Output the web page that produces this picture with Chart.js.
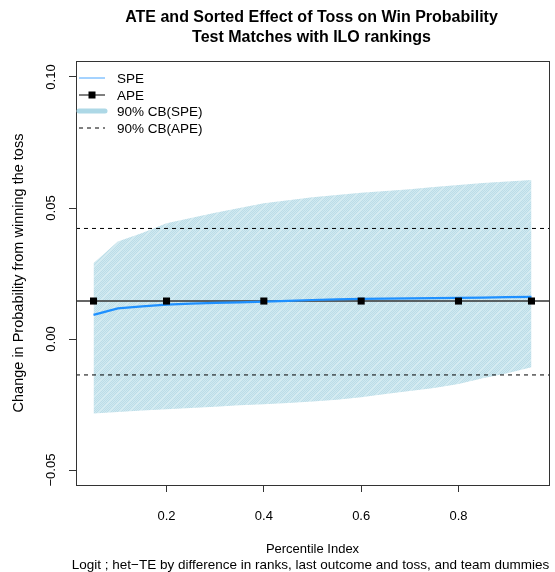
<!DOCTYPE html>
<html lang="en">
<head>
  <meta charset="UTF-8" />
  <title>ATE and Sorted Effect of Toss on Win Probability</title>
  <script src="https://cdn.jsdelivr.net/npm/chart.js"></script>
  <style>
    body { margin: 0; padding: 0; background: white; }
    .chart-container { width: 555px; height: 572px; }
  </style>
</head>
<body>
  <div class="chart-container"><canvas id="speChart" width="555" height="572"></canvas></div>

  <script>
    // percentile index grid and sorted effects
    const pctl = [0.05, 0.10, 0.15, 0.20, 0.25, 0.30, 0.35, 0.40, 0.45, 0.50,
                  0.55, 0.60, 0.65, 0.70, 0.75, 0.80, 0.85, 0.90, 0.95];
    const spe = [0.0092, 0.0117, 0.0125, 0.0131, 0.0135, 0.0138, 0.0140, 0.0143, 0.0146, 0.0149,
                 0.0151, 0.0153, 0.0154, 0.0155, 0.0156, 0.0157, 0.0158, 0.0160, 0.0161];
    const cbUpper = [0.0289, 0.0372, 0.0405, 0.0442, 0.0462, 0.0482, 0.0500, 0.0518, 0.0530, 0.0541,
                     0.0550, 0.0558, 0.0565, 0.0572, 0.0580, 0.0588, 0.0595, 0.0601, 0.0607];
    const cbLower = [-0.0284, -0.0278, -0.0273, -0.0268, -0.0263, -0.0258, -0.0253, -0.0249, -0.0244, -0.0238,
                     -0.0232, -0.0222, -0.0210, -0.0198, -0.0187, -0.0172, -0.0150, -0.0131, -0.0108];

    // average effect and its band
    const apePctl = [0.05, 0.2, 0.4, 0.6, 0.8, 0.95];
    const apeValue = 0.0145;
    const apeUpper = 0.0422;
    const apeLower = -0.0137;

    const xTicks = [0.2, 0.4, 0.6, 0.8];
    const yTicks = [-0.05, 0.00, 0.05, 0.10];
    const xLimits = [0.014, 0.986];
    const yLimits = [-0.0557, 0.1061];

    const legendItems = ['SPE', 'APE', '90% CB(SPE)', '90% CB(APE)'];

    const FONT = '"Liberation Sans", Arial, Helvetica, sans-serif';

    // shaded light blue fill like the R output (fine checker + faint diagonal)
    function bandPattern() {
      const c = document.createElement('canvas');
      c.width = 10; c.height = 10;
      const g = c.getContext('2d');
      for (let i = 0; i < 10; i++) {
        for (let j = 0; j < 10; j++) {
          g.fillStyle = ((i + j) % 2 === 0) ? '#bbdde8' : '#d1e9f0';
          if ((i + j) % 10 === 0) g.fillStyle = '#d6ecf2';
          g.fillRect(i, j, 1, 1);
        }
      }
      return g.createPattern(c, 'repeat');
    }

    const pts = (xs, ys) => xs.map((x, i) => ({ x: x, y: ys[i] }));
    const flat = (v) => xLimits.map(x => ({ x: x, y: v }));

    const decorations = {
      id: 'decorations',
      afterDraw(chart) {
        const ctx = chart.ctx;
        const a = chart.chartArea;
        const ys = chart.scales.y;
        const midX = (a.left + a.right) / 2;
        ctx.save();
        // box
        ctx.strokeStyle = '#333';
        ctx.lineWidth = 1;
        ctx.strokeRect(a.left + 0.5, a.top + 0.5, a.right - a.left, a.bottom - a.top);

        // titles
        ctx.fillStyle = '#000';
        ctx.textAlign = 'center';
        ctx.textBaseline = 'middle';
        ctx.font = 'bold 16px ' + FONT;
        ctx.fillText('ATE and Sorted Effect of Toss on Win Probability', midX - 1, 18);
        ctx.fillText('Test Matches with ILO rankings', midX - 1, 38);
        ctx.font = '13px ' + FONT;
        ctx.fillText('Percentile Index', midX, 549);
        ctx.font = '13.5px ' + FONT;
        ctx.fillText('Logit ; het\u2212TE by difference in ranks, last outcome and toss, and team dummies', midX - 2, 565);

        // y tick labels and title, rotated
        ctx.font = '13px ' + FONT;
        yTicks.forEach(v => {
          const py = ys.getPixelForValue(v);
          ctx.save();
          ctx.translate(51, py);
          ctx.rotate(-Math.PI / 2);
          ctx.fillText((v < 0 ? '\u2212' : '') + Math.abs(v).toFixed(2), 0, 0);
          ctx.restore();
        });
        ctx.font = '14.5px ' + FONT;
        ctx.save();
        ctx.translate(19, (a.top + a.bottom) / 2);
        ctx.rotate(-Math.PI / 2);
        ctx.fillText('Change in Probability from winning the toss', 0, 0);
        ctx.restore();

        // legend
        const lx0 = a.left + 3, lx1 = a.left + 29, tx = a.left + 41;
        const rowY = [78, 95, 111, 128];
        ctx.textAlign = 'left';
        ctx.font = '13.5px ' + FONT;
        legendItems.forEach((label, i) => {
          const y = rowY[i];
          ctx.beginPath();
          ctx.setLineDash([]);
          if (i === 0) { ctx.strokeStyle = '#4aa6ff'; ctx.lineWidth = 1; }
          if (i === 1) { ctx.strokeStyle = '#000'; ctx.lineWidth = 1; }
          if (i === 2) { ctx.strokeStyle = '#ADD8E6'; ctx.lineWidth = 5; ctx.lineCap = 'round'; }
          if (i === 3) { ctx.strokeStyle = '#000'; ctx.lineWidth = 1; ctx.setLineDash([4, 4]); ctx.lineCap = 'butt'; }
          ctx.moveTo(lx0, y);
          ctx.lineTo(lx1, y);
          ctx.stroke();
          ctx.lineCap = 'butt';
          ctx.setLineDash([]);
          if (i === 1) {
            ctx.fillStyle = '#000';
            ctx.fillRect((lx0 + lx1) / 2 - 3.5, y - 3.5, 7, 7);
          }
          ctx.fillStyle = '#000';
          ctx.fillText(label, tx, y + 1);
        });
        ctx.restore();
      }
    };

    const ctx = document.getElementById('speChart').getContext('2d');
    new Chart(ctx, {
      type: 'scatter',
      data: {
        datasets: [
          {
            label: '90% CB(SPE) upper',
            data: pts(pctl, cbUpper),
            showLine: true,
            borderWidth: 0,
            borderColor: 'rgba(0,0,0,0)',
            pointRadius: 0,
            backgroundColor: bandPattern(),
            fill: '+1',
            order: 5
          },
          {
            label: '90% CB(SPE) lower',
            data: pts(pctl, cbLower),
            showLine: true,
            borderWidth: 0,
            borderColor: 'rgba(0,0,0,0)',
            pointRadius: 0,
            fill: false,
            order: 4
          },
          {
            label: 'CB(APE) upper',
            data: flat(apeUpper),
            showLine: true,
            borderColor: '#000',
            borderWidth: 1,
            borderDash: [4, 4],
            pointRadius: 0,
            order: 3
          },
          {
            label: 'CB(APE) lower',
            data: flat(apeLower),
            showLine: true,
            borderColor: '#000',
            borderWidth: 1,
            borderDash: [4, 4],
            pointRadius: 0,
            order: 3
          },
          {
            label: 'APE line',
            data: flat(apeValue),
            showLine: true,
            borderColor: '#333',
            borderWidth: 1.5,
            pointRadius: 0,
            order: 2
          },
          {
            label: 'SPE',
            data: pts(pctl, spe),
            showLine: true,
            borderColor: '#1E90FF',
            borderWidth: 2.2,
            pointRadius: 0,
            tension: 0,
            order: 1
          },
          {
            label: 'APE',
            data: apePctl.map(x => ({ x: x, y: apeValue })),
            showLine: false,
            pointStyle: 'rect',
            pointRadius: 5,
            pointBackgroundColor: '#000',
            pointBorderColor: '#000',
            pointBorderWidth: 0,
            order: 0
          }
        ]
      },
      options: {
        responsive: false,
        animation: false,
        layout: { padding: { top: 61, right: 6, left: 0, bottom: 0 } },
        plugins: {
          legend: { display: false },
          tooltip: { enabled: false },
          title: { display: false }
        },
        scales: {
          x: {
            type: 'linear',
            min: xLimits[0],
            max: xLimits[1],
            afterBuildTicks: (s) => { s.ticks = xTicks.map(v => ({ value: v })); },
            afterFit: (s) => { s.height = 87; },
            grid: { drawOnChartArea: false, drawTicks: true, tickLength: 7, color: '#333' },
            border: { display: false },
            ticks: {
              color: '#000',
              font: { family: FONT, size: 13 },
              padding: 17,
              maxRotation: 0,
              callback: (v) => v.toFixed(1)
            }
          },
          y: {
            type: 'linear',
            min: yLimits[0],
            max: yLimits[1],
            afterBuildTicks: (s) => { s.ticks = yTicks.map(v => ({ value: v })); },
            afterFit: (s) => { s.width = 76; },
            grid: { drawOnChartArea: false, drawTicks: true, tickLength: 7, color: '#333' },
            border: { display: false },
            ticks: { display: false }
          }
        }
      },
      plugins: [decorations]
    });
  </script>
</body>
</html>
